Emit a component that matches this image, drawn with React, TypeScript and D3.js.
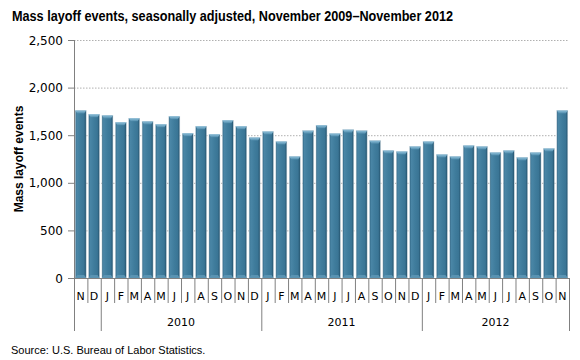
import React from 'react';
import * as d3 from 'd3';

const months = ['N', 'D',
  'J', 'F', 'M', 'A', 'M', 'J', 'J', 'A', 'S', 'O', 'N', 'D',
  'J', 'F', 'M', 'A', 'M', 'J', 'J', 'A', 'S', 'O', 'N', 'D',
  'J', 'F', 'M', 'A', 'M', 'J', 'J', 'A', 'S', 'O', 'N'];

const layoffs = [1760, 1719,
  1708, 1635, 1677, 1645, 1614, 1698, 1520, 1593, 1509, 1656, 1593, 1475,
  1538, 1433, 1276, 1548, 1604, 1517, 1558, 1548, 1443, 1339, 1328, 1381,
  1433, 1297, 1276, 1391, 1381, 1318, 1339, 1266, 1318, 1360, 1760];

// year groups: label, first index, last index (inclusive)
const yearLabels = ['', '2010', '2011', '2012'];
const yearStarts = [0, 2, 14, 26];
const yearEnds = [1, 13, 25, 36];

const yTicks = [0, 500, 1000, 1500, 2000, 2500];

const width = 580;
const height = 360;
const margin = {top: 40, right: 11, bottom: 82, left: 74};

const App = () => {
  const boundedH = height - margin.top - margin.bottom;
  const x = d3.scaleBand<number>()
    .domain(d3.range(months.length))
    .range([margin.left, width - margin.right])
    .paddingInner(0.18)
    .paddingOuter(0.09);
  const y = d3.scaleLinear().domain([0, 2500]).range([margin.top + boundedH, margin.top]);
  const step = x.step();
  const left = margin.left;
  const right = width - margin.right;
  const base = y(0);
  const bw = x.bandwidth();
  const tickEdge = (i: number) => left + i * step;

  return (
    <svg width={width} height={height} style={{position: 'absolute', left: 0, top: 0}}>
      <defs>
        <linearGradient id="barGrad" x1="0" x2="1" y1="0" y2="0">
          <stop offset="0" stopColor="#2f6482" />
          <stop offset="0.15" stopColor="#4a86a6" />
          <stop offset="0.5" stopColor="#3f7c9c" />
          <stop offset="0.8" stopColor="#3a7595" />
          <stop offset="1" stopColor="#23516b" />
        </linearGradient>
        <linearGradient id="capGrad" x1="0" x2="0" y1="0" y2="1">
          <stop offset="0" stopColor="#8ec0da" />
          <stop offset="1" stopColor="#4f8bab" />
        </linearGradient>
      </defs>
      <rect width={width} height={height} fill="#fff" />
      <text x={12} y={21} fontFamily="'Liberation Sans', Arial, sans-serif" fontWeight="bold" fontSize={14}
        textLength={441} lengthAdjust="spacingAndGlyphs" fill="#000">
        Mass layoff events, seasonally adjusted, November 2009–November 2012
      </text>

      {yTicks.slice(1).map(t => (
        <line key={'g' + t} x1={left} x2={right - 1} y1={y(t) + 0.5} y2={y(t) + 0.5}
          stroke="#b0b0b0" strokeDasharray="1.5 1.5" />
      ))}

      {layoffs.map((v, i) => {
        const bx = x(i)!;
        const by = y(v);
        return (
          <g key={'b' + i}>
            <rect x={bx} y={by} width={bw} height={base - by} fill="url(#barGrad)" stroke="#c9d6de" strokeWidth={0.5} />
            <path d={`M${bx},${by} L${bx + bw},${by} L${bx + bw - 2},${by + 3} L${bx + 2},${by + 3} Z`} fill="url(#capGrad)" />
            <path d={`M${bx},${base} L${bx + bw},${base} L${bx + bw - 2},${base - 3} L${bx + 2},${base - 3} Z`} fill="#5993b2" />
          </g>
        );
      })}

      {/* y axis */}
      <line x1={left + 0.5} x2={left + 0.5} y1={margin.top} y2={base} stroke="#808080" />
      {yTicks.map(t => (
        <g key={'t' + t}>
          <line x1={left - 6} x2={left} y1={y(t) + 0.5} y2={y(t) + 0.5} stroke="#808080" />
          <text x={left - 11} y={y(t) + 4.5} textAnchor="end" fontFamily="'DejaVu Sans', Verdana, sans-serif"
            fontSize={12} fill="#000">{d3.format(',')(t)}</text>
        </g>
      ))}
      <text transform={`translate(23,${(margin.top + base) / 2}) rotate(-90)`} textAnchor="middle"
        fontFamily="'Liberation Sans', Arial, sans-serif" fontWeight="bold" fontSize={12} fill="#000">
        Mass layoff events
      </text>

      {/* x axis */}
      <line x1={left} x2={right} y1={base + 0.5} y2={base + 0.5} stroke="#808080" />
      {months.map((m, i) => (
        <text key={'m' + i} x={tickEdge(i) + step / 2} y={base + 22} textAnchor="middle"
          fontFamily="'DejaVu Sans', Verdana, sans-serif" fontSize={11} fill="#000">{m}</text>
      ))}
      {d3.range(months.length + 1).map(i => {
        const isYear = yearStarts.includes(i) || i === months.length;
        return (
          <line key={'k' + i} x1={tickEdge(i) + 0.5} x2={tickEdge(i) + 0.5} y1={base}
            y2={isYear ? base + 53 : base + 25} stroke="#808080" />
        );
      })}
      {yearLabels.map((lab, k) => (
        <text key={'y' + k} x={(tickEdge(yearStarts[k]) + tickEdge(yearEnds[k] + 1)) / 2} y={base + 48}
          textAnchor="middle" fontFamily="'DejaVu Sans', Verdana, sans-serif" fontSize={11} fill="#000">{lab}</text>
      ))}

      <text x={11} y={354} fontFamily="'Liberation Sans', Arial, sans-serif" fontSize={11} fill="#000">
        Source: U.S. Bureau of Labor Statistics.
      </text>
    </svg>
  );
};

export default App;
